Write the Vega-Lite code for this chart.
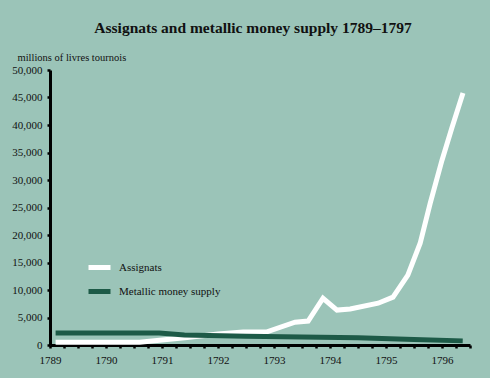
{
  "$schema": "https://vega.github.io/schema/vega-lite/v6.json",
  "autosize": "none",
  "width": 420,
  "height": 275,
  "padding": {"left": 50, "top": 70, "right": 20, "bottom": 33},
  "background": "#9bc4b8",
  "title": {
    "text": "Assignats and metallic money supply 1789–1797",
    "font": "Liberation Serif",
    "fontSize": 15.5,
    "fontWeight": "bold",
    "color": "#111111",
    "anchor": "middle",
    "dx": -7,
    "offset": 16
  },
  "config": {
    "view": {"stroke": null},
    "font": "Liberation Serif"
  },
  "data": {
    "values": [
      {"year": 1789.1, "value": 500, "series": "Assignats"},
      {"year": 1790.6, "value": 500, "series": "Assignats"},
      {"year": 1791.0, "value": 900, "series": "Assignats"},
      {"year": 1791.45, "value": 1350, "series": "Assignats"},
      {"year": 1792.0, "value": 2000, "series": "Assignats"},
      {"year": 1792.45, "value": 2350, "series": "Assignats"},
      {"year": 1792.875, "value": 2400, "series": "Assignats"},
      {"year": 1793.375, "value": 4150, "series": "Assignats"},
      {"year": 1793.61, "value": 4350, "series": "Assignats"},
      {"year": 1793.875, "value": 8500, "series": "Assignats"},
      {"year": 1794.125, "value": 6350, "series": "Assignats"},
      {"year": 1794.36, "value": 6550, "series": "Assignats"},
      {"year": 1794.86, "value": 7600, "series": "Assignats"},
      {"year": 1795.125, "value": 8700, "series": "Assignats"},
      {"year": 1795.39, "value": 12700, "series": "Assignats"},
      {"year": 1795.61, "value": 18500, "series": "Assignats"},
      {"year": 1795.79, "value": 25800, "series": "Assignats"},
      {"year": 1796.0, "value": 33600, "series": "Assignats"},
      {"year": 1796.18, "value": 39600, "series": "Assignats"},
      {"year": 1796.375, "value": 45800, "series": "Assignats"},
      {"year": 1789.1, "value": 2200, "series": "Metallic money supply"},
      {"year": 1790.95, "value": 2200, "series": "Metallic money supply"},
      {"year": 1791.4, "value": 1800, "series": "Metallic money supply"},
      {"year": 1792.5, "value": 1600, "series": "Metallic money supply"},
      {"year": 1793.5, "value": 1450, "series": "Metallic money supply"},
      {"year": 1794.5, "value": 1300, "series": "Metallic money supply"},
      {"year": 1795.5, "value": 1000, "series": "Metallic money supply"},
      {"year": 1796.37, "value": 750, "series": "Metallic money supply"}
    ]
  },
  "mark": {"type": "line", "strokeWidth": 5, "strokeJoin": "miter", "strokeCap": "butt"},
  "encoding": {
    "x": {
      "field": "year",
      "type": "quantitative",
      "scale": {"domain": [1789, 1796.5], "nice": false, "zero": false},
      "axis": {
        "title": null,
        "grid": false,
        "values": [1789, 1789.25, 1789.5, 1789.75, 1790, 1790.25, 1790.5, 1790.75, 1791, 1791.25, 1791.5, 1791.75, 1792, 1792.25, 1792.5, 1792.75, 1793, 1793.25, 1793.5, 1793.75, 1794, 1794.25, 1794.5, 1794.75, 1795, 1795.25, 1795.5, 1795.75, 1796, 1796.25, 1796.5],
        "labelExpr": "datum.value % 1 === 0 ? toString(datum.value) : ''",
        "domainColor": "#000000",
        "domainWidth": 3,
        "tickColor": "#000000",
        "tickSize": 3,
        "tickWidth": 2.5,
        "labelColor": "#111111",
        "labelFont": "Liberation Serif",
        "labelFontSize": 11,
        "labelPadding": 6,
        "labelDx": 2,
        "labelFlush": false
      }
    },
    "y": {
      "field": "value",
      "type": "quantitative",
      "scale": {"domain": [0, 50000], "nice": false},
      "axis": {
        "title": "millions of livres tournois",
        "titleAngle": 0,
        "titleAlign": "left",
        "titleBaseline": "middle",
        "titleX": -33,
        "titleY": -13,
        "titleFont": "Liberation Serif",
        "titleFontSize": 10.5,
        "titleFontWeight": "normal",
        "titleColor": "#111111",
        "grid": false,
        "values": [0, 5000, 10000, 15000, 20000, 25000, 30000, 35000, 40000, 45000, 50000],
        "format": ",d",
        "domainColor": "#000000",
        "domainWidth": 3,
        "tickColor": "#000000",
        "tickSize": 3,
        "tickWidth": 2.5,
        "labelColor": "#111111",
        "labelFont": "Liberation Serif",
        "labelFontSize": 11,
        "labelPadding": 5
      }
    },
    "color": {
      "field": "series",
      "type": "nominal",
      "scale": {"domain": ["Assignats", "Metallic money supply"], "range": ["#ffffff", "#1d5a47"]},
      "legend": {
        "title": null,
        "orient": "none",
        "legendX": 36,
        "legendY": 184,
        "padding": 0,
        "symbolType": "stroke",
        "symbolStrokeWidth": 5,
        "symbolSize": 484,
        "rowPadding": 0,
        "labelFont": "Liberation Serif",
        "labelFontSize": 11,
        "labelColor": "#111111",
        "labelOffset": 6
      }
    }
  }
}
